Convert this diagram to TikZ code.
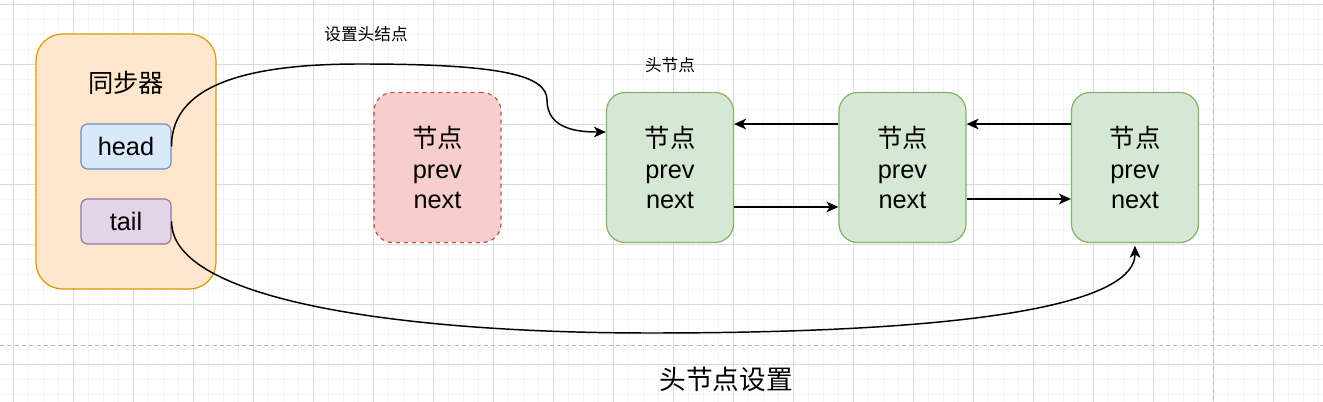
\documentclass[tikz,border=0pt]{standalone}
\usepackage{fontspec}
\setmainfont{Liberation Sans}
\newfontfamily\cjk{Noto Sans CJK SC}
\usetikzlibrary{arrows.meta}

\definecolor{orangefill}{HTML}{FFE6CC}
\definecolor{orangeline}{HTML}{D79B00}
\definecolor{bluefill}{HTML}{DAE8FC}
\definecolor{blueline}{HTML}{6C8EBF}
\definecolor{purplefill}{HTML}{E1D5E7}
\definecolor{purpleline}{HTML}{9673A6}
\definecolor{redfill}{HTML}{F8CECC}
\definecolor{redline}{HTML}{B85450}
\definecolor{greenfill}{HTML}{D5E8D4}
\definecolor{greenline}{HTML}{82B366}
\definecolor{gridmajor}{HTML}{DADADA}
\definecolor{gridminor}{HTML}{F3F3F3}

\tikzset{
  bigtext/.style={font=\fontsize{19}{23}\selectfont},
  listnode/.style={bigtext, rounded corners=14pt, line width=0.9pt, inner sep=0pt,
    minimum width=95.25pt, minimum height=112.5pt, align=center},
  field/.style={bigtext, rounded corners=5pt, line width=0.9pt, inner sep=0pt,
    minimum width=67.5pt, minimum height=33.75pt},
  ptr/.style={->, line width=1.1pt},
}

\begin{document}
\begin{tikzpicture}[x=0.75pt,y=-0.75pt,
  >={Stealth[length=9pt,width=8pt,inset=2.5pt]}]

\useasboundingbox (0,0) rectangle (1323,402);
\fill[white] (0,0) rectangle (1323,402);

% Grille
\foreach \gx in {-2,13,...,1318} \draw[gridminor,line width=0.6pt] (\gx,0) -- (\gx,402);
\foreach \gy in {4,19,...,394} \draw[gridminor,line width=0.6pt] (0,\gy) -- (1323,\gy);
\foreach \gx in {13,73,...,1273} \draw[gridmajor,line width=0.6pt] (\gx,0) -- (\gx,402);
\foreach \gy in {4,64,...,364} \draw[gridmajor,line width=0.6pt] (0,\gy) -- (1323,\gy);

% Limites de page
\draw[gray!55,line width=0.7pt,dash pattern=on 3pt off 2.5pt] (0,345) -- (1323,345);
\draw[gray!55,line width=0.7pt,dash pattern=on 3pt off 2.5pt] (1213,0) -- (1213,402);

% Synchroniseur
\node[draw=orangeline, fill=orangefill, rounded corners=20pt, line width=0.9pt,
  minimum width=135pt, minimum height=191.25pt] (sync) at (126,161.5) {};
\node[bigtext] (synclabel) at (126,83) {\cjk 同步器};
\node[field, draw=blueline, fill=bluefill] (head) at (126,146.5) {head};
\node[field, draw=purpleline, fill=purplefill] (tail) at (126,221.5) {tail};

% Noeuds
\node[listnode, draw=redline, fill=redfill, dashed] (old) at (437.5,167.5)
  {{\cjk 节点}\\prev\\next};
\node[listnode, draw=greenline, fill=greenfill] (n1) at (670,167.5)
  {{\cjk 节点}\\prev\\next};
\node[listnode, draw=greenline, fill=greenfill] (n2) at (902.5,167.5)
  {{\cjk 节点}\\prev\\next};
\node[listnode, draw=greenline, fill=greenfill] (n3) at (1135,167.5)
  {{\cjk 节点}\\prev\\next};

% Liens prev / next
\draw[ptr] ([yshift=-29.6pt]n1.east) -- ([yshift=-29.6pt]n2.west);
\draw[ptr] ([yshift=32.6pt]n2.west) -- ([yshift=32.6pt]n1.east);
\draw[ptr] ([yshift=-23.6pt]n2.east) -- ([yshift=-23.6pt]n3.west);
\draw[ptr] ([yshift=32.6pt]n3.west) -- ([yshift=32.6pt]n2.east);

% head
\coordinate (h1) at (360,64);
\coordinate (h2) at (547,100);
\draw[ptr] (head.east) .. controls (171,80) and (260,64) .. (h1)
  .. controls (500,64) and (547,75) .. (h2)
  .. controls (547,130) and (580,132) .. ([yshift=26.6pt]n1.west);

% tail
\coordinate (t1) at (650,333);
\draw[ptr, shorten >=2pt] (tail.east) .. controls (171,300) and (400,333) .. (t1)
  .. controls (1000,333) and (1135,300) .. (n3.south);

% Textes
\node[font=\cjk\fontsize{12.5}{15}\selectfont] (sethead) at (366,34) {设置头结点};
\node[font=\cjk\fontsize{12.5}{15}\selectfont] (headlabel) at (670,65) {头节点};
\node[font=\cjk\fontsize{20}{24}\selectfont] (title) at (726,379) {头节点设置};

\end{tikzpicture}
\end{document}
